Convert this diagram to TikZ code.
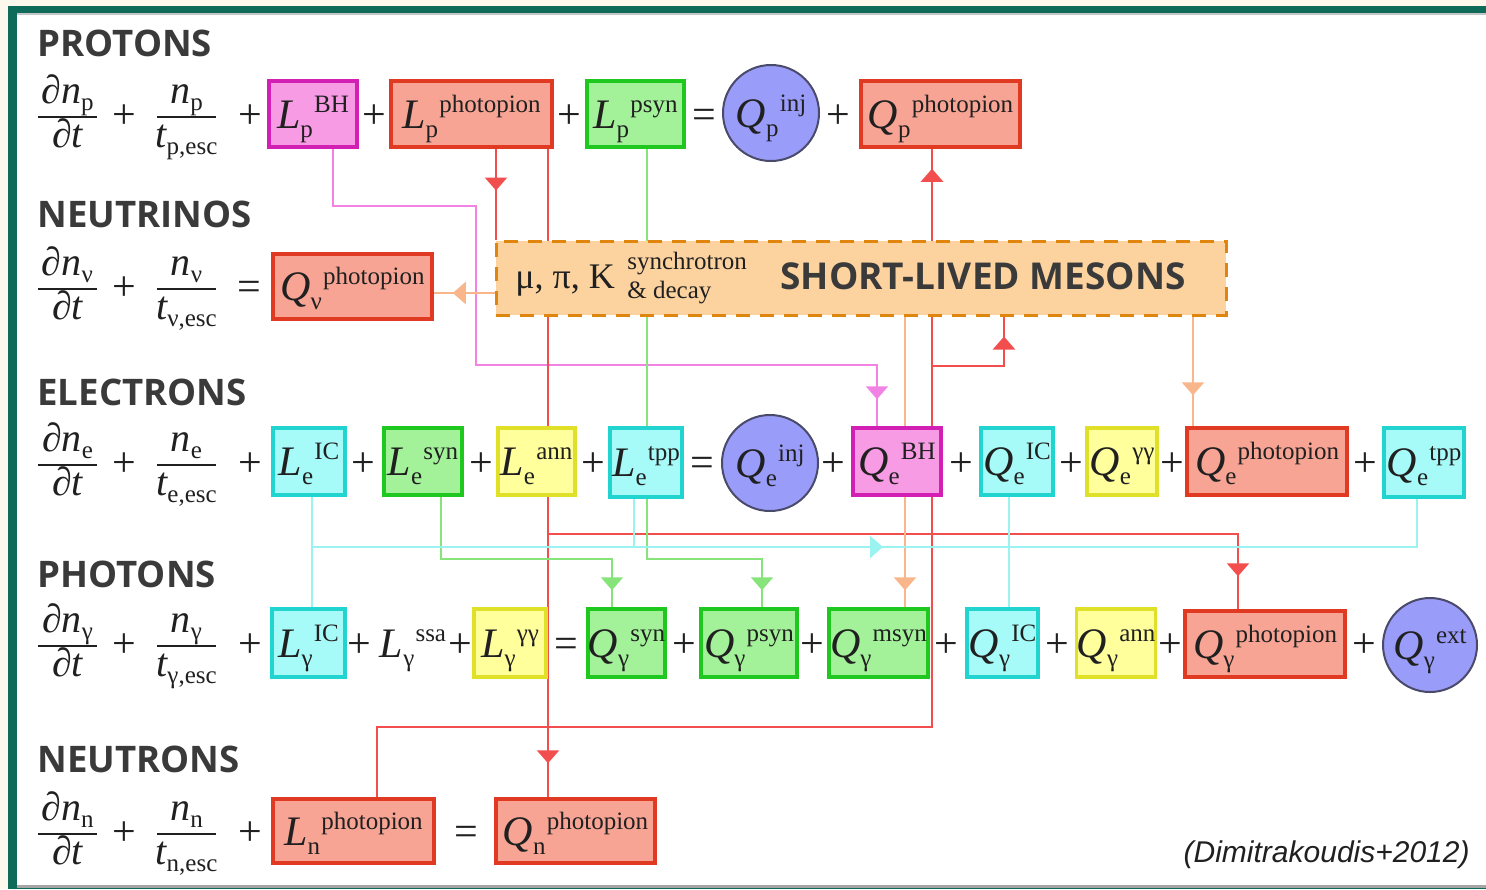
\documentclass[tikz,border=0pt]{standalone}
\usepackage{fontspec}
\setmainfont{Liberation Serif}
\newfontfamily\lblfont{Open Sans}
\newfontfamily\citefont{Liberation Sans}
\usetikzlibrary{arrows.meta,decorations.markings}
\definecolor{cream}{HTML}{FDF8EC}
\definecolor{frame}{HTML}{0E6B5A}
\definecolor{textc}{HTML}{202020}
\definecolor{lblc}{HTML}{3A3A3A}
\definecolor{redfill}{HTML}{F8A494}
\definecolor{redbd}{HTML}{E03A22}
\definecolor{redline}{HTML}{F24E4E}
\definecolor{magfill}{HTML}{F79BE4}
\definecolor{magbd}{HTML}{D21FB4}
\definecolor{pinkline}{HTML}{F283E4}
\definecolor{grnfill}{HTML}{A3F29A}
\definecolor{grnbd}{HTML}{1FC81F}
\definecolor{grnline}{HTML}{86E47A}
\definecolor{cyfill}{HTML}{A6FAF7}
\definecolor{cybd}{HTML}{22D4D0}
\definecolor{cyline}{HTML}{9AF3F1}
\definecolor{yefill}{HTML}{FFFF9C}
\definecolor{yebd}{HTML}{E0E028}
\definecolor{blfill}{HTML}{9A9CFA}
\definecolor{blbd}{HTML}{4A4A6A}
\definecolor{mesfill}{HTML}{FCD29E}
\definecolor{mesbd}{HTML}{E0860E}
\definecolor{peachline}{HTML}{F9B68A}
\pgfdeclarelayer{back}
\pgfdeclarelayer{wires}
\pgfsetlayers{back,wires,main}
\newcommand\tm[3]{{\itshape #1}\raisebox{-4.5pt}{\fontsize{12.5}{13}\selectfont #2}\kern0.6pt\raisebox{8pt}{\fontsize{12.5}{13}\selectfont #3}}
\newcommand\sbx[1]{\raisebox{-3.5pt}{\fontsize{12.5}{13}\selectfont #1}}
\newcommand\bx[7]{\node[#2, minimum width={(#5-#3)*0.5pt}, minimum height={(#6-#4)*0.5pt}] (#1) at ({(#3+#5)/2},{(#4+#6)/2}) {#7};}
\newcommand\frc[6]{%
  \node[frtext, anchor=base] (#1n) at ({(#2+#3)/2},{#4-14}) {#5};
  \node[frtext, anchor=base] (#1d) at ({(#2+#3)/2},{#4+30}) {#6};
  \draw[line width=0.9pt, textc] (#2,#4) -- (#3,#4);}
\begin{document}
\begin{tikzpicture}[x=0.5pt,y=-0.5pt,
  eq/.style={inner sep=0pt, text height=16pt, text depth=2pt, font=\fontsize{21}{25}\selectfont, text=textc},
  op/.style={eq},
  frtext/.style={inner sep=0pt, font=\fontsize{20}{24}\selectfont, text=textc},
  rbox/.style={eq, draw=redbd, fill=redfill, line width=1.75pt},
  mbox/.style={eq, draw=magbd, fill=magfill, line width=1.75pt},
  gbox/.style={eq, draw=grnbd, fill=grnfill, line width=1.75pt},
  cbox/.style={eq, draw=cybd, fill=cyfill, line width=1.75pt},
  ybox/.style={eq, draw=yebd, fill=yefill, line width=1.75pt},
  circ/.style={eq, circle, draw=blbd, fill=blfill, line width=1pt},
  lbl/.style={inner sep=0pt, anchor=base west, font=\lblfont\bfseries\fontsize{18.3}{22}\selectfont, text=lblc},
  redln/.style={color=redline, line width=1.3pt},
  pinkln/.style={color=pinkline, line width=1pt},
  grnln/.style={color=grnline, line width=1pt},
  cyln/.style={color=cyline, line width=1.1pt},
  peachln/.style={color=peachline, line width=1.2pt},
  marr/.style={postaction={decorate,decoration={markings,mark=at position #1 with {\arrow{Triangle[width=11pt,length=6.5pt]}}}}}
]
\useasboundingbox (0,0) rectangle (1486,889);
\begin{pgfonlayer}{back}
\fill[cream] (0,0) rectangle (1486,889);
\fill[frame] (8,6) rectangle (1486,889);
\fill[white] (17,13) rectangle (1486,886);
\fill[gray!45] (17,13) rectangle (1486,15);
\fill[gray!70] (17,885) rectangle (1486,888);
\end{pgfonlayer}

% ---------- labels
\node[lbl] (lprot) at (37,56) {PROTONS};
\node[lbl] (lneu) at (37,227) {NEUTRINOS};
\node[lbl] (lele) at (37,405) {ELECTRONS};
\node[lbl] (lpho) at (37,587) {PHOTONS};
\node[lbl] (lneut) at (37,772) {NEUTRONS};

% ---------- fractions
\frc{fpa}{38}{97}{117}{∂{\itshape n}\sbx{p}}{∂{\itshape t}}
\frc{fpb}{157}{216}{117}{{\itshape n}\sbx{p}}{{\itshape t}\sbx{p,esc}}
\frc{fva}{38}{97}{289}{∂{\itshape n}\sbx{ν}}{∂{\itshape t}}
\frc{fvb}{157}{216}{289}{{\itshape n}\sbx{ν}}{{\itshape t}\sbx{ν,esc}}
\frc{fea}{38}{97}{465}{∂{\itshape n}\sbx{e}}{∂{\itshape t}}
\frc{feb}{157}{216}{465}{{\itshape n}\sbx{e}}{{\itshape t}\sbx{e,esc}}
\frc{fga}{38}{97}{646}{∂{\itshape n}\sbx{γ}}{∂{\itshape t}}
\frc{fgb}{157}{216}{646}{{\itshape n}\sbx{γ}}{{\itshape t}\sbx{γ,esc}}
\frc{fna}{38}{97}{834}{∂{\itshape n}\sbx{n}}{∂{\itshape t}}
\frc{fnb}{157}{216}{834}{{\itshape n}\sbx{n}}{{\itshape t}\sbx{n,esc}}

% ---------- row 1 protons
\node[op] (r1o1) at (124,114) {+};
\node[op] (r1o2) at (250,114) {+};
\bx{LpBH}{mbox}{269}{81}{357}{147}{\tm{L}{p}{BH}}
\node[op] (r1o3) at (374,114) {+};
\bx{Lpphoto}{rbox}{391}{81}{552}{147}{\tm{L}{p}{photopion}}
\node[op] (r1o4) at (569,114) {+};
\bx{Lppsyn}{gbox}{587}{81}{684}{147}{\tm{L}{p}{psyn}}
\node[op] (r1o5) at (704,114) {=};
\node[circ, minimum size=48pt] (Qpinj) at (771,113) {\tm{Q}{p}{inj}};
\node[op] (r1o6) at (838,114) {+};
\bx{Qpphoto}{rbox}{861}{81}{1020}{147}{\tm{Q}{p}{photopion}}

% ---------- row 2 neutrinos
\node[op] (r2o1) at (124,286) {+};
\node[op] (r2o2) at (249,286) {=};
\bx{Qvphoto}{rbox}{273}{254}{432}{319}{\tm{Q}{ν}{photopion}}

% mesons box
\node[draw=mesbd, fill=mesfill, line width=1.5pt, dash pattern=on 7pt off 5pt,
      minimum width=365pt, minimum height=37pt, inner sep=0pt] (mes) at (861,278) {};
\node[inner sep=0pt, anchor=base west, font=\fontsize{18}{22}\selectfont, text=textc] (mpk) at (515,288) {μ, π, K};
\node[inner sep=0pt, anchor=base west, font=\fontsize{12.5}{14}\selectfont, text=textc] (msyn) at (627,269) {synchrotron};
\node[inner sep=0pt, anchor=base west, font=\fontsize{12.5}{14}\selectfont, text=textc] (mdec) at (627,298) {\&~decay};
\node[inner sep=0pt, anchor=base west, font=\lblfont\bfseries\fontsize{18.5}{22}\selectfont, text=lblc] (mtitle) at (780,289) {SHORT-LIVED MESONS};

% ---------- row 3 electrons
\node[op] (r3o1) at (124,462) {+};
\node[op] (r3o2) at (250,462) {+};
\bx{LeIC}{cbox}{273}{428}{345}{495}{\tm{L}{e}{IC}}
\node[op] (r3o3) at (363,462) {+};
\bx{Lesyn}{gbox}{384}{428}{462}{495}{\tm{L}{e}{syn}}
\node[op] (r3o4) at (481,462) {+};
\bx{Leann}{ybox}{498}{428}{575}{495}{\tm{L}{e}{ann}}
\node[op] (r3o5) at (593,462) {+};
\bx{Letpp}{cbox}{610}{428}{682}{497}{\tm{L}{e}{tpp}}
\node[op] (r3o6) at (702,462) {=};
\node[circ, minimum size=48pt] (Qeinj) at (770,463) {\tm{Q}{e}{inj}};
\node[op] (r3o7) at (833,462) {+};
\bx{QeBH}{mbox}{853}{428}{941}{495}{\tm{Q}{e}{BH}}
\node[op] (r3o8) at (961,462) {+};
\bx{QeIC}{cbox}{981}{428}{1053}{495}{\tm{Q}{e}{IC}}
\node[op] (r3o9) at (1071,462) {+};
\bx{Qegg}{ybox}{1087}{428}{1157}{495}{\tm{Q}{e}{γγ}}
\node[op] (r3o10) at (1172,462) {+};
\bx{Qephoto}{rbox}{1187}{428}{1347}{495}{\tm{Q}{e}{photopion}}
\node[op] (r3o11) at (1365,462) {+};
\bx{Qetpp}{cbox}{1384}{428}{1464}{497}{\tm{Q}{e}{tpp}}

% ---------- row 4 photons
\node[op] (r4o1) at (124,643) {+};
\node[op] (r4o2) at (250,643) {+};
\bx{LgIC}{cbox}{272}{609}{345}{677}{\tm{L}{γ}{IC}}
\node[op] (r4o3) at (359,643) {+};
\node[eq] (Lgssa) at (413,643) {\tm{L}{γ}{ssa}};
\node[op] (r4o4) at (460,643) {+};
\bx{Lggg}{ybox}{474}{609}{546}{677}{\tm{L}{γ}{γγ}}
\node[op] (r4o5) at (566,643) {=};
\bx{Qgsyn}{gbox}{588}{609}{665}{677}{\tm{Q}{γ}{syn}}
\node[op] (r4o6) at (684,643) {+};
\bx{Qgpsyn}{gbox}{701}{609}{797}{677}{\tm{Q}{γ}{psyn}}
\node[op] (r4o7) at (812,643) {+};
\bx{Qgmsyn}{gbox}{829}{609}{928}{677}{\tm{Q}{γ}{msyn}}
\node[op] (r4o8) at (946,643) {+};
\bx{QgIC}{cbox}{967}{609}{1038}{677}{\tm{Q}{γ}{IC}}
\node[op] (r4o9) at (1057,643) {+};
\bx{Qgann}{ybox}{1077}{609}{1155}{677}{\tm{Q}{γ}{ann}}
\node[op] (r4o10) at (1170,643) {+};
\bx{Qgphoto}{rbox}{1185}{611}{1345}{677}{\tm{Q}{γ}{photopion}}
\node[op] (r4o11) at (1364,643) {+};
\node[circ, minimum size=47pt] (Qgext) at (1430,645) {\tm{Q}{γ}{ext}};

% ---------- row 5 neutrons
\node[op] (r5o1) at (124,831) {+};
\node[op] (r5o2) at (250,831) {+};
\bx{Lnphoto}{rbox}{273}{799}{434}{863}{\tm{L}{n}{photopion}}
\node[op] (r5o3) at (466,831) {=};
\bx{Qnphoto}{rbox}{496}{799}{655}{863}{\tm{Q}{n}{photopion}}

% citation
\node[inner sep=0pt, anchor=base east, font=\citefont\itshape\fontsize{15}{18}\selectfont, text=textc] (cite) at (1470,862) {(Dimitrakoudis+2012)};

% ---------- connectors
\begin{pgfonlayer}{wires}
% pink: Lp^BH -> Qe^BH
\draw[pinkln, marr=-13.5pt] ([xshift=10pt]LpBH.south) |- (476,206) |- (877,365) -- ([xshift=-10pt]QeBH.north);
% red: Lp^photopion -> mesons
\coordinate (ra) at ([xshift=12.25pt]Lpphoto.south);
\draw[redln, marr=-24.5pt] (ra) -- (ra |- mes.north);
% red: Lp^photopion -> Qn^photopion
\coordinate (rb) at ([xshift=38.25pt]Lpphoto.south);
\draw[redln, marr=-17pt] (rb) -- (rb |- Qnphoto.north);
% red: -> Qgamma^photopion
\coordinate (rc) at (548,534);
\draw[redln, marr=-16.5pt] (rc) -| ([xshift=-13.5pt]Qgphoto.north);
% red: Ln^photopion -> Qp^photopion
\coordinate (rd) at (932,727);
\draw[redln, marr=-10pt] ([xshift=11.75pt]Lnphoto.north) |- (rd) -- (rd |- Qpphoto.south);
% red branch -> mesons
\coordinate (re) at (932,366);
\draw[redln, marr=-10pt] (re) -| ([xshift=71.5pt]mes.south);
% peach: mesons -> Qnu
\coordinate (pa) at ([yshift=-7.5pt]mes.west);
\draw[peachln, marr=-9.5pt] (pa) -- (pa -| Qvphoto.east);
% peach: mesons -> Qgamma^msyn
\coordinate (pb) at ([xshift=22pt]mes.south);
\draw[peachln, marr=-8.5pt] (pb) -- (pb |- Qgmsyn.north);
% peach: mesons -> Qe^photopion
\coordinate (pc) at ([xshift=166pt]mes.south);
\draw[peachln, marr=-15.5pt] (pc) -- (pc |- Qephoto.north);
% green: Lp^psyn -> Qgamma^psyn
\coordinate (ga) at ([xshift=5.75pt]Lppsyn.south);
\coordinate (gb) at (762,559);
\draw[grnln, marr=-8.5pt] (ga) |- (gb) -- (gb |- Qgpsyn.north);
% green: Le^syn -> Qgamma^syn
\coordinate (gc) at (612,559);
\draw[grnln, marr=-8.5pt] ([xshift=9pt]Lesyn.south) |- (gc) -- (gc |- Qgsyn.north);
% cyan: Le^IC -> Lgamma^IC
\coordinate (ca) at ([xshift=1.5pt]LeIC.south);
\draw[cyln] (ca) -- (ca |- LgIC.north);
% cyan: horizontal -> Qe^tpp
\coordinate (cb) at (312,547);
\coordinate (cc) at (1417,547);
\draw[cyln, marr=285.5pt] (cb) -- (cc) -- (cc |- Qetpp.south);
% cyan: Le^tpp down
\coordinate (cd) at ([xshift=-6pt]Letpp.south);
\draw[cyln] (cd) -- (cd |- cb);
% cyan: Qe^IC -> Qgamma^IC
\coordinate (ce) at ([xshift=-4pt]QeIC.south);
\draw[cyln] (ce) -- (ce |- QgIC.north);
\end{pgfonlayer}
\end{tikzpicture}
\end{document}
